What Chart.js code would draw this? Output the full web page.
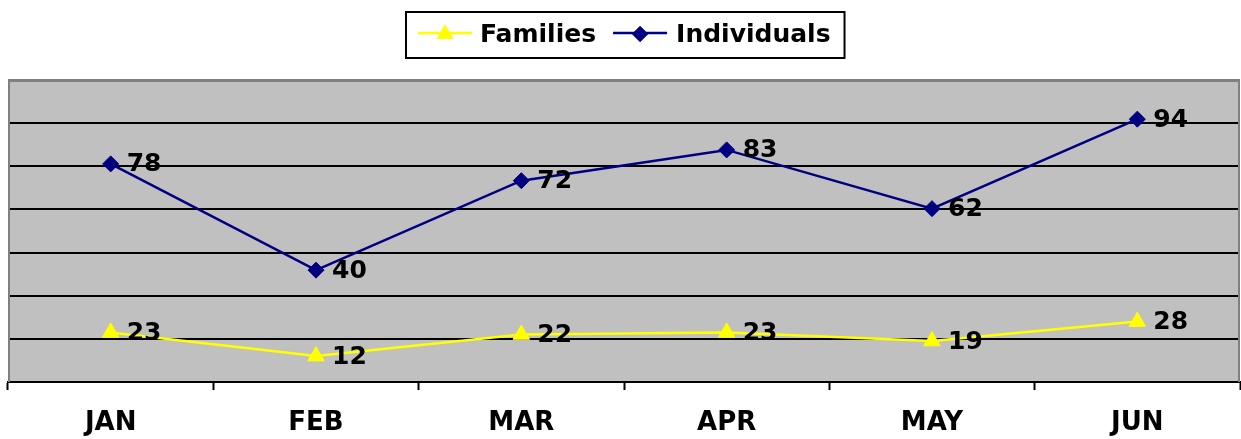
<!DOCTYPE html>
<html>
<head>
<meta charset="utf-8">
<script src="https://cdn.jsdelivr.net/npm/chart.js@4.4.0/dist/chart.umd.min.js"></script>
<style>
html, body { margin: 0; padding: 0; background: #fff; }
#wrap { width: 1241px; height: 439px; }
</style>
</head>
<body>
<div id="wrap"><canvas id="chart"></canvas></div>
<script>
/* Data */
const months = ["JAN", "FEB", "MAR", "APR", "MAY", "JUN"];
const families = [23, 12, 22, 23, 19, 28];
const individuals = [78, 40, 72, 83, 62, 94];

const FONT = '"DejaVu Sans", Verdana, sans-serif';

/* Plot background + grey frame */
const frame = {
    id: "frame",
    beforeDraw(chart) {
        const { ctx, chartArea: a } = chart;
        ctx.save();
        ctx.fillStyle = "#c0c0c0";
        ctx.fillRect(a.left, a.top, a.right - a.left, a.bottom - a.top);
        ctx.restore();
    },
    beforeDatasetsDraw(chart) {
        const { ctx, chartArea: a } = chart;
        ctx.save();
        ctx.strokeStyle = "#808080";
        ctx.lineWidth = 2;
        ctx.beginPath();
        ctx.moveTo(a.left + 1, a.bottom);
        ctx.lineTo(a.left + 1, a.top + 1);
        ctx.lineTo(a.right - 1, a.top + 1);
        ctx.lineTo(a.right - 1, a.bottom);
        ctx.stroke();
        ctx.restore();
    }
};

/* Value labels to the right of each point */
const valueLabels = {
    id: "valueLabels",
    afterDatasetsDraw(chart) {
        const ctx = chart.ctx;
        ctx.save();
        ctx.font = "bold 25px " + FONT;
        ctx.fillStyle = "#000";
        ctx.textAlign = "left";
        ctx.textBaseline = "middle";
        chart.data.datasets.forEach((ds, i) => {
            chart.getDatasetMeta(i).data.forEach((pt, j) => {
                ctx.fillText(String(ds.data[j]), pt.x + 16, pt.y + 1);
            });
        });
        ctx.restore();
    }
};

/* Boxed legend with line + marker samples */
const boxLegend = {
    id: "boxLegend",
    afterDraw(chart) {
        const ctx = chart.ctx;
        const ds = chart.data.datasets;
        ctx.save();
        ctx.font = "bold 25px " + FONT;
        const w0 = ctx.measureText(ds[0].label).width;
        const w1 = ctx.measureText(ds[1].label).width;
        const total = 12 + 54 + 8 + w0 + 17 + 54 + 9 + w1 + 14;
        const left = Math.round(625 - total / 2), top = 12, h = 46;
        ctx.fillStyle = "#fff";
        ctx.fillRect(left, top, total, h);
        ctx.strokeStyle = "#000";
        ctx.lineWidth = 2;
        ctx.strokeRect(left, top, total, h);
        const cy = top + 23;
        let x = left + 12;
        [[ds[0], w0, 8], [ds[1], w1, 9]].forEach(([d, w, gap]) => {
            ctx.strokeStyle = d.borderColor;
            ctx.lineWidth = 2.5;
            ctx.beginPath();
            ctx.moveTo(x, cy - 2);
            ctx.lineTo(x + 54, cy - 2);
            ctx.stroke();
            ctx.fillStyle = d.pointBackgroundColor;
            Chart.helpers.drawPoint(ctx, { pointStyle: d.pointStyle, radius: d.pointRadius, borderWidth: 0, rotation: 0 }, x + 27, cy - 1);
            ctx.fill();
            x += 54 + gap;
            ctx.fillStyle = "#000";
            ctx.textAlign = "left";
            ctx.textBaseline = "middle";
            ctx.fillText(d.label, x, cy);
            x += w + 17;
        });
        ctx.restore();
    }
};

new Chart(document.getElementById("chart"), {
    type: "line",
    data: {
        labels: months,
        datasets: [
            {
                label: "Families",
                data: families,
                yAxisID: "yF",
                borderColor: "#ffff00",
                backgroundColor: "#ffff00",
                pointBackgroundColor: "#ffff00",
                pointBorderColor: "#ffff00",
                borderWidth: 2.5,
                pointStyle: "triangle",
                pointRadius: 9.5,
                pointBorderWidth: 1,
                tension: 0
            },
            {
                label: "Individuals",
                data: individuals,
                yAxisID: "yI",
                borderColor: "#000080",
                backgroundColor: "#000080",
                pointBackgroundColor: "#000080",
                pointBorderColor: "#000080",
                borderWidth: 2.5,
                pointStyle: "rectRot",
                pointRadius: 8,
                pointBorderWidth: 1,
                tension: 0
            }
        ]
    },
    options: {
        responsive: true,
        maintainAspectRatio: false,
        animation: false,
        layout: { autoPadding: false, padding: { left: 8, right: 1, top: 80, bottom: 0 } },
        plugins: {
            legend: { display: false },
            tooltip: { enabled: false }
        },
        scales: {
            x: {
                offset: true,
                grid: {
                    offset: true,
                    drawOnChartArea: false,
                    drawTicks: true,
                    tickLength: 8,
                    tickColor: "#000",
                    tickWidth: 2
                },
                border: { display: true, color: "#000", width: 2 },
                ticks: {
                    color: "#000",
                    padding: 18,
                    font: { family: FONT, size: 26, weight: "bold" }
                },
                afterFit: s => { s.height = 57; s.paddingLeft = 0; s.paddingRight = 0; }
            },
            yF: {
                position: "left",
                min: 0,
                max: 140,
                ticks: { display: false, stepSize: 20 },
                border: { display: false },
                grid: {
                    drawTicks: false,
                    lineWidth: 2,
                    color: c => (c.tick && c.tick.value === 140 ? "#808080" : "#000")
                },
                afterFit: s => { s.width = 0; }
            },
            yI: {
                display: false,
                position: "right",
                min: 0,
                max: 108
            }
        }
    },
    plugins: [frame, valueLabels, boxLegend]
});
</script>
</body>
</html>
